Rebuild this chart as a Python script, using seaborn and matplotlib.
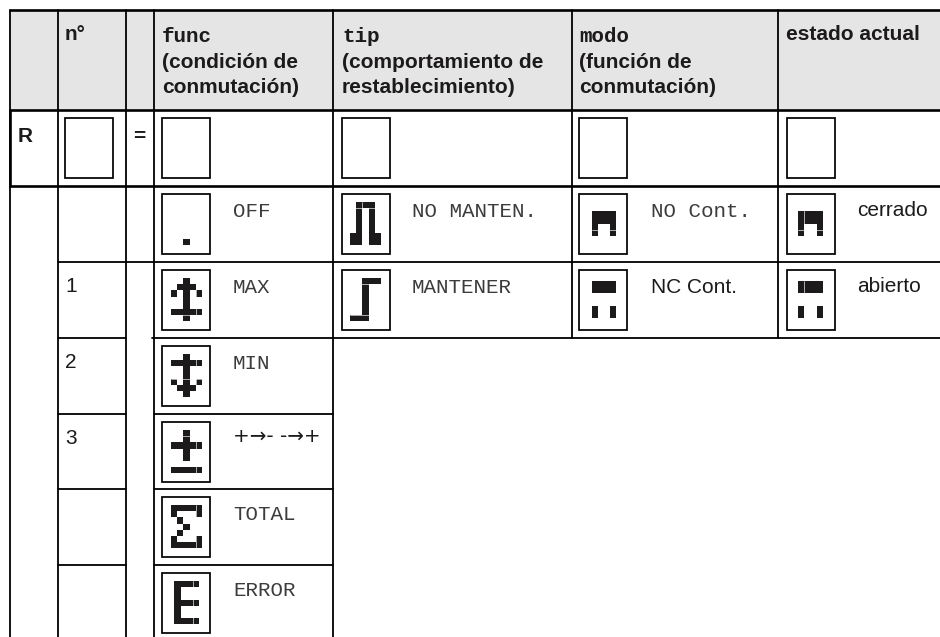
import numpy as np
import seaborn as sns
import matplotlib.pyplot as plt
from matplotlib.patches import Rectangle

# text of the table
header_code = ['func', 'tip', 'modo']
header_desc = [['(condición de', 'conmutación)'],
               ['(comportamiento de', 'restablecimiento)'],
               ['(función de', 'conmutación)']]
numbers = ['1', '2', '3']
func_labels = ['OFF', 'MAX', 'MIN', '+→- -→+', 'TOTAL', 'ERROR']
tip_labels = ['NO MANTEN.', 'MANTENER']
modo_labels = ['NO Cont.', 'NC Cont.']
estado_labels = ['cerrado', 'abierto']

# display icons, one string per row of the dot matrix
icon_off = ['.....', '.....', '.....', '.....', '.....', '.....', '..#..']
icon_max = ['..#..', '.###.', '#.#.#', '..#..', '..#..', '#####', '..#..']
icon_min = ['..#..', '#####', '..#..', '..#..', '#.#.#', '.###.', '..#..']
icon_plusminus = ['..#..', '..#..', '#####', '..#..', '..#..', '.....', '#####']
icon_total = ['#####', '#...#', '.#...', '..#..', '.#...', '#...#', '#####']
icon_error = ['####', '#...', '#...', '####', '#...', '#...', '####']
icon_nomanten = ['.###.', '.#.#.', '.#.#.', '.#.#.', '.#.#.', '##.##', '##.##']
icon_mantener = ['..###', '..#..', '..#..', '..#..', '..#..', '..#..', '###..']
icon_no = ['....', '####', '####', '#..#', '#..#', '....']
icon_nc = ['####', '####', '....', '....', '#..#', '#..#']

sns.set_theme(style='white')
plt.rcParams['font.family'] = ['Liberation Sans', 'DejaVu Sans']
MONO = ['Liberation Mono', 'DejaVu Sans Mono']
INK = '#1c1a1b'
GREY = '#3c3c3c'

W, H = 940, 637
fig = plt.figure(figsize=(W / 100, H / 100), dpi=100, facecolor='white')
ax = fig.add_axes([0, 0, 1, 1])
ax.set_xlim(0, W)
ax.set_ylim(H, 0)
ax.axis('off')

# table grid
cols = [9.5, 57.5, 125.5, 153.5, 332.5, 572, 778]
rows = [10, 110, 186, 262, 338, 414, 489, 565]
ax.add_patch(Rectangle((cols[0], rows[0]), W - cols[0], rows[1] - rows[0], color='#e5e5e5', lw=0))

thin = 1.3
thick = 1.9
for x in cols[:5]:
    ax.plot([x, x], [rows[0], H], color='black', lw=thin)
for x in cols[5:]:
    ax.plot([x, x], [rows[0], rows[4]], color='black', lw=thin)
ax.plot([cols[0]] * 2, [rows[1], rows[2]], color='black', lw=thick)
for y in rows[:3]:
    ax.plot([cols[0], W], [y, y], color='black', lw=thick)
ax.plot([cols[1], W], [rows[3], rows[3]], color='black', lw=thin)
ax.plot([cols[1], cols[2]], [rows[4], rows[4]], color='black', lw=thin)
ax.plot([cols[3] - 1.5, W], [rows[4], rows[4]], color='black', lw=thin)
for y in rows[5:]:
    ax.plot([cols[1], cols[2]], [y, y], color='black', lw=thin)
    ax.plot([cols[3], cols[4]], [y, y], color='black', lw=thin)


def txt(x, y, s, mono=False, bold=False, color=INK):
    ax.text(x, y, s, family=MONO if mono else None, weight='bold' if bold else 'normal',
            fontsize=15, color=color, va='baseline', ha='left')


def icon(m, x, y, cw=6.2, ch=6.17, gx=(), gy=()):
    # dot matrix drawn as a small heatmap, placed in table pixels
    data = np.array([[c == '#' for c in r] for r in m], dtype=float)
    nr, nc = data.shape
    a = fig.add_axes([x / W, 1 - (y + nr * ch) / H, nc * cw / W, nr * ch / H])
    sns.heatmap(data, mask=data == 0, cmap=[INK], cbar=False, ax=a,
                xticklabels=False, yticklabels=False, vmin=0, vmax=1)
    a.patch.set_alpha(0)
    a.axis('off')
    for g in gx:
        a.axvline(g, color='white', lw=0.45)
    for g in gy:
        a.axhline(g, color='white', lw=0.45)


def box(x, y):
    ax.add_patch(Rectangle((x, y), 48, 60, fill=False, ec='black', lw=1.25))


# header
for x, code, desc in zip([162, 342, 579], header_code, header_desc):
    txt(x, 42, code, mono=True, bold=True)
    txt(x, 68, desc[0], bold=True)
    txt(x, 93, desc[1], bold=True)
txt(65, 40, 'n°', bold=True)
txt(786, 40, 'estado actual', bold=True)

# R row
txt(18, 142, 'R', bold=True)
txt(133, 142, '=', bold=True)
for x in [64.5, 162, 342, 579, 787]:
    box(x, rows[2] - 68)

# numbers
for y, n in zip(rows[3:], numbers):
    txt(65, y + 30, n)

# func column
func_icons = [icon_off, icon_max, icon_min, icon_plusminus, icon_total, icon_error]
func_gaps = [dict(), dict(gx=[4], gy=[6]), dict(gx=[4], gy=[4]), dict(gx=[4], gy=[1]),
             dict(gx=[4]), dict(gx=[3])]
for i, (m, lab, g) in enumerate(zip(func_icons, func_labels, func_gaps)):
    top = rows[2:][i]
    box(162, top + 8)
    x0 = 174.3 if m is icon_error else 171
    icon(m, x0, top + 16, **g)
    if lab.startswith('+'):
        ax.text(233, top + 28, lab, family='DejaVu Sans', fontsize=14.3, color=INK, va='baseline')
    else:
        txt(233, top + 31, lab, mono=True, color=GREY)

# tip column
for i, (m, lab, g) in enumerate(zip([icon_nomanten, icon_mantener], tip_labels,
                                    [dict(gx=[2], gy=[1]), dict(gy=[1, 6])])):
    top = rows[2 + i]
    box(342, top + 8)
    icon(m, 350, top + 16, **g)
    txt(412, top + 31, lab, mono=True, color=GREY)

# modo column
for i, (m, g) in enumerate(zip([icon_no, icon_nc], [dict(gy=[4]), dict()])):
    top = rows[2 + i]
    box(579, top + 8)
    icon(m, 592, top + 19, cw=6, **g)
txt(651, rows[2] + 31, modo_labels[0], mono=True, color=GREY)
txt(651, rows[3] + 31, modo_labels[1])

# estado actual column
for i, (m, g, lab) in enumerate(zip([icon_no, icon_nc], [dict(gx=[1], gy=[4]), dict(gx=[1])], estado_labels)):
    top = rows[2 + i]
    box(787, top + 8)
    icon(m, 798, top + 19, cw=6.2, **g)
    txt(857, top + 30, lab)

fig.savefig('out.png', dpi=100, facecolor='white')
